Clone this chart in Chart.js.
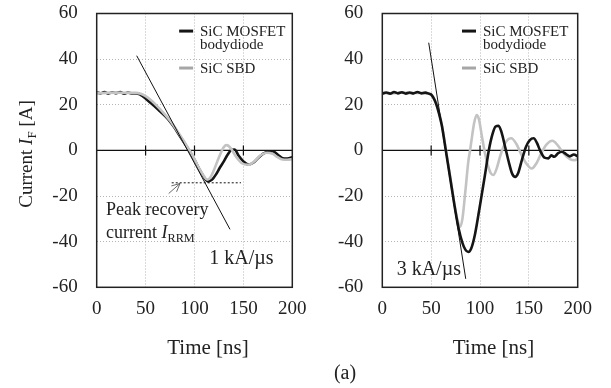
<!DOCTYPE html>
<html>
<head>
<meta charset="utf-8">
<script src="https://cdn.jsdelivr.net/npm/chart.js@4"></script>
<style>
  body { margin: 0; background: #fff; }
  #wrap { position: relative; width: 611px; height: 388px; overflow: hidden; background: #fff; }
  canvas { position: absolute; top: 0; }
  #leftChart { left: 0; }
  #rightChart { left: 300px; }
</style>
</head>
<body>
<div id="wrap">
  <canvas id="leftChart" width="330" height="388"></canvas>
  <canvas id="rightChart" width="311" height="388"></canvas>
</div>
<script>
const FONT = '"Liberation Serif", "Times New Roman", serif';

// Left panel: 1 kA/us
const leftMosfetTime = [0, 4, 8, 12, 16, 20, 24, 28, 32, 36, 40, 44, 48, 52, 56, 60, 65, 70, 75, 80, 85, 90, 95, 100, 105, 110, 114, 118, 122, 126, 130, 134, 138, 141, 145, 150, 155, 160, 165, 170, 175, 180, 185, 190, 195, 200];
const leftMosfetCurrent = [25.4, 25.0, 25.6, 24.9, 25.5, 25.1, 25.6, 24.8, 25.4, 25.0, 25.0, 24.6, 23.4, 22.0, 20.5, 19.0, 17.0, 15.0, 12.6, 9.7, 6.3, 3.0, -0.4, -4.2, -8.3, -12.0, -13.6, -12.8, -10.5, -7.5, -4.8, -1.8, 0.3, 0.4, -2.2, -4.8, -6.2, -5.4, -3.4, -1.5, -0.6, -0.4, -1.8, -3.4, -3.6, -3.0];
const leftSbdTime = [0, 10, 20, 30, 40, 45, 50, 55, 60, 65, 70, 75, 80, 85, 90, 95, 100, 105, 110, 113, 116, 120, 125, 130, 133, 137, 142, 148, 155, 162, 168, 174, 180, 185, 190, 195, 200];
const leftSbdCurrent = [25.0, 25.2, 25.3, 25.2, 25.2, 24.8, 23.8, 22.2, 20.2, 18.0, 15.6, 13.0, 10.0, 6.8, 3.4, 0.0, -3.8, -8.0, -11.5, -12.8, -12.0, -8.5, -3.0, 1.5, 2.3, 1.0, -2.5, -5.5, -6.3, -4.5, -2.0, -1.0, -1.5, -3.0, -4.0, -4.1, -3.8];
const leftSlopeTime = [40.9, 136.3];
const leftSlopeCurrent = [41.5, -34.6];
const leftIrrmTime = [76.7, 147.5];
const leftIrrmCurrent = [-14.2, -14.2];

// Right panel: 3 kA/us
const rightMosfetTime = [0, 4, 8, 12, 16, 20, 24, 28, 32, 36, 40, 44, 48, 50, 52, 55, 58, 61, 65, 70, 75, 78, 82, 85, 88, 91, 95, 100, 105, 109, 113, 116, 119, 122, 126, 130, 133, 136, 139, 143, 147, 151, 155, 158, 162, 166, 170, 173, 176, 180, 184, 188, 192, 196, 200];
const rightMosfetCurrent = [24.8, 25.4, 24.9, 25.6, 25.0, 25.5, 24.9, 25.4, 25.0, 25.6, 25.0, 25.3, 24.8, 24.5, 23.3, 20.5, 16.2, 10.8, 0.0, -13.5, -27.0, -34.0, -40.5, -43.5, -44.5, -43.0, -36.5, -24.0, -11.0, 0.0, 7.5, 10.5, 10.8, 8.0, 1.0, -6.0, -10.3, -11.6, -10.0, -4.0, 1.5, 4.5, 5.3, 3.5, -0.5, -3.2, -3.5, -2.2, -2.8, -1.2, -0.6, -1.6, -2.6, -1.8, -2.6];
const rightSbdTime = [0, 10, 20, 30, 40, 46, 50, 53, 56, 59, 62, 65, 70, 74, 77, 79.5, 82, 85, 88, 90, 92, 94, 96.6, 99, 102, 105, 108, 111, 113.6, 117, 120, 123, 127, 132, 137, 142, 147, 153, 158, 163, 168, 174, 180, 186, 192, 197, 200];
const rightSbdCurrent = [25.2, 25.0, 25.3, 25.1, 25.2, 25.0, 24.4, 22.6, 19.6, 15.2, 8.5, 0.5, -13.0, -24.0, -30.5, -33.5, -30.0, -18.0, -5.0, 0.5, 6.5, 12.0, 15.5, 13.5, 6.0, -1.0, -6.5, -10.0, -10.8, -8.0, -3.5, 0.5, 4.0, 5.3, 3.0, -1.5, -5.5, -7.9, -5.5, -1.0, 2.5, 4.2, 2.0, -1.5, -3.8, -4.3, -3.5];
const rightSlopeTime = [47.5, 85.4];
const rightSlopeCurrent = [47.2, -56.3];

const seriesNames = ['SiC MOSFET', 'bodydiode', 'SiC SBD'];
const BLACK = '#151515';
const GRAY = '#c3c3c3';
const GRAY_KEY = '#a6a6a6';

const pts = (t, v) => t.map((x, i) => ({ x: x, y: v[i] }));

function curve(t, v, color) {
  return { data: pts(t, v), borderColor: color, borderWidth: 2.6, pointRadius: 0,
           cubicInterpolationMode: 'monotone', fill: false };
}
function guide(t, v, dash) {
  return { data: pts(t, v), borderColor: '#111', borderWidth: 1, pointRadius: 0,
           tension: 0, fill: false, borderDash: dash || [] };
}

// text made of plain / italic / subscript pieces
function drawParts(ctx, parts, x, y, size, align) {
  const fontOf = p => (p.it ? 'italic ' : '') + (p.sub ? size * 0.68 : size) + 'px ' + FONT;
  let w = 0;
  parts.forEach(p => { ctx.font = fontOf(p); w += ctx.measureText(p.t).width; });
  let cx = align === 'center' ? x - w / 2 : x;
  ctx.textBaseline = 'alphabetic';
  ctx.textAlign = 'left';
  parts.forEach(p => {
    ctx.font = fontOf(p);
    ctx.fillText(p.t, cx, y + size * 0.33 + (p.sub ? size * 0.22 : 0));
    cx += ctx.measureText(p.t).width;
  });
}

const decorPlugin = {
  id: 'decor',
  beforeDatasetsDraw(chart) {
    const { ctx, chartArea: a, scales: { x, y } } = chart;
    const y0 = y.getPixelForValue(0);
    ctx.save();
    ctx.strokeStyle = '#111';
    ctx.lineWidth = 1.2;
    ctx.beginPath();
    ctx.moveTo(a.left, y0); ctx.lineTo(a.right, y0);
    [50, 100, 150].forEach(t => {
      const px = x.getPixelForValue(t);
      ctx.moveTo(px, y0 - 5); ctx.lineTo(px, y0 + 5);
    });
    ctx.stroke();
    ctx.restore();
  },
  afterDraw(chart, args, opts) {
    const { ctx, chartArea: a, scales: { x, y } } = chart;
    const X = v => x.getPixelForValue(v), Y = v => y.getPixelForValue(v);
    ctx.save();
    // frame
    ctx.strokeStyle = '#222';
    ctx.lineWidth = 1.5;
    ctx.strokeRect(a.left, a.top, a.right - a.left, a.bottom - a.top);

    // legend
    const lg = opts.legend;
    ctx.lineWidth = 3;
    ctx.strokeStyle = BLACK;
    ctx.beginPath(); ctx.moveTo(X(lg.x0), Y(lg.y1)); ctx.lineTo(X(lg.x1), Y(lg.y1)); ctx.stroke();
    ctx.strokeStyle = GRAY_KEY;
    ctx.beginPath(); ctx.moveTo(X(lg.x0), Y(lg.y3)); ctx.lineTo(X(lg.x1), Y(lg.y3)); ctx.stroke();
    ctx.fillStyle = '#222';
    drawParts(ctx, [{ t: seriesNames[0] }], X(lg.tx), Y(lg.y1), 15);
    drawParts(ctx, [{ t: seriesNames[1] }], X(lg.tx), Y(lg.y2), 15);
    drawParts(ctx, [{ t: seriesNames[2] }], X(lg.tx), Y(lg.y3), 15);

    // notes
    opts.notes.forEach(n => drawParts(ctx, n.parts, X(n.x), Y(n.y), n.size));

    // arrow to the peak recovery level
    if (opts.arrow) {
      const [t0, v0, t1, v1] = opts.arrow;
      const x0 = X(t0), y0 = Y(v0), x1 = X(t1), y1 = Y(v1);
      const ang = Math.atan2(y1 - y0, x1 - x0);
      ctx.strokeStyle = '#444';
      ctx.lineWidth = 0.8;
      ctx.beginPath();
      ctx.moveTo(x0, y0); ctx.lineTo(x1, y1);
      [0.45, -0.45].forEach(d => {
        ctx.moveTo(x1, y1);
        ctx.lineTo(x1 - 9 * Math.cos(ang + d), y1 - 9 * Math.sin(ang + d));
      });
      ctx.stroke();
    }

    // axis titles
    ctx.fillStyle = '#222';
    drawParts(ctx, [{ t: 'Time [ns]' }], (a.left + a.right) / 2 + 13.5, a.bottom + 60, 21, 'center');
    if (opts.yTitle) {
      ctx.translate(26, 154);
      ctx.rotate(-Math.PI / 2);
      drawParts(ctx, [{ t: 'Current ' }, { t: 'I', it: true }, { t: 'F', sub: true }, { t: ' [A]' }], 0, 0, 19, 'center');
      ctx.setTransform(1, 0, 0, 1, 0, 0);
    }
    if (opts.caption) {
      drawParts(ctx, [{ t: '(a)' }], 45, 372.5, 20, 'center');
    }
    ctx.restore();
  }
};

const gridX = c => (c.tick && c.tick.value % 200 === 0) ? 'rgba(0,0,0,0)' : '#b5b5b5';
const gridY = c => (c.tick && (c.tick.value === 0 || Math.abs(c.tick.value) === 60)) ? 'rgba(0,0,0,0)' : '#b5b5b5';

function makeChart(id, box, datasets, decor) {
  const tickFont = { family: FONT, size: 19 };
  return new Chart(document.getElementById(id), {
    type: 'line',
    data: { datasets: datasets },
    options: {
      responsive: false,
      animation: false,
      events: [],
      layout: { padding: { left: 0, top: box.top, right: box.width - box.right, bottom: 388 - box.bottom - 40 } },
      plugins: { legend: { display: false }, tooltip: { enabled: false }, decor: decor },
      scales: {
        x: {
          type: 'linear', min: 0, max: 200,
          ticks: { stepSize: 50, padding: 10, color: '#222', font: tickFont },
          grid: { drawTicks: false, color: gridX, lineWidth: 1 },
          border: { display: false, dash: [1, 2] },
          afterFit: s => { s.height = 40; s.paddingLeft = 0; s.paddingRight = 0; }
        },
        y: {
          type: 'linear', min: -60, max: 60,
          ticks: { stepSize: 20, padding: 19, color: '#222', font: tickFont },
          grid: { drawTicks: false, color: gridY, lineWidth: 1 },
          border: { display: false, dash: [1, 2] },
          afterFit: s => { s.width = box.left; s.paddingTop = 0; s.paddingBottom = 0; }
        }
      }
    },
    plugins: [decorPlugin]
  });
}

makeChart('leftChart', { left: 96.7, right: 292.3, top: 13.5, bottom: 287.3, width: 330 }, [
  guide(leftSlopeTime, leftSlopeCurrent),
  guide(leftIrrmTime, leftIrrmCurrent, [2, 2]),
  curve(leftSbdTime, leftSbdCurrent, GRAY),
  curve(leftMosfetTime, leftMosfetCurrent, BLACK)
], {
  yTitle: true,
  legend: { x0: 84.3, x1: 98.6, tx: 105.6, y1: 52.3, y2: 46.8, y3: 36.1 },
  notes: [
    { parts: [{ t: 'Peak recovery' }], x: 9.6, y: -25.7, size: 18 },
    { parts: [{ t: 'current ' }, { t: 'I', it: true }, { t: 'RRM', sub: true }], x: 9.6, y: -35.7, size: 18 },
    { parts: [{ t: '1 kA/\u00b5s' }], x: 115.1, y: -47.1, size: 20 }
  ],
  arrow: [73.6, -18.9, 85.2, -14.5]
});

makeChart('rightChart', { left: 82.3, right: 277.7, top: 13.5, bottom: 287.3, width: 311 }, [
  guide(rightSlopeTime, rightSlopeCurrent),
  curve(rightMosfetTime, rightMosfetCurrent, BLACK),
  curve(rightSbdTime, rightSbdCurrent, GRAY)
], {
  caption: true,
  legend: { x0: 81.6, x1: 95.9, tx: 103, y1: 52.3, y2: 46.8, y3: 36.1 },
  notes: [
    { parts: [{ t: '3 kA/\u00b5s' }], x: 14.7, y: -51.8, size: 20 }
  ]
});
</script>
</body>
</html>
